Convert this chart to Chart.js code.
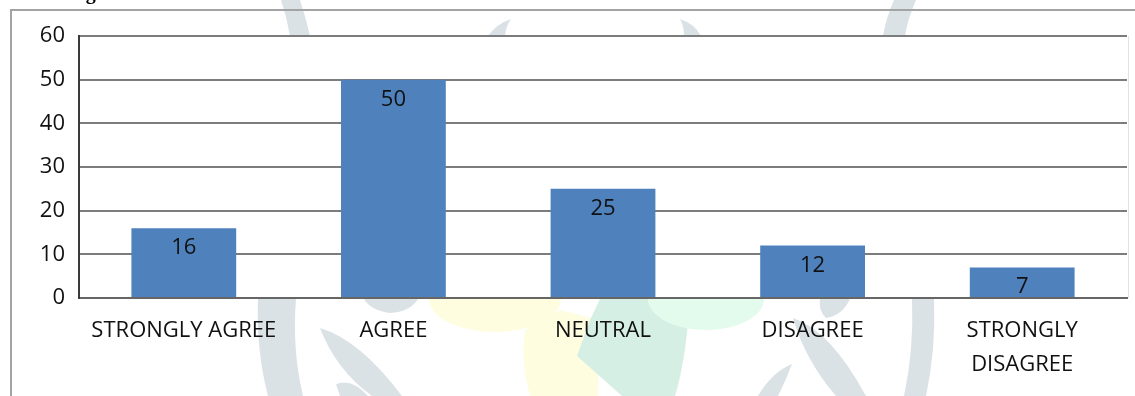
<!DOCTYPE html>
<html>
<head>
<meta charset="utf-8">
<script src="https://cdn.jsdelivr.net/npm/chart.js@4/dist/chart.umd.min.js"></script>
<style>
  html,body{margin:0;padding:0;background:#fff;overflow:hidden}
  #wrap{position:relative;width:1135px;height:396px}
</style>
</head>
<body>
<div id="wrap"><canvas id="ch-likert" width="1135" height="396"></canvas></div>
<script>
/* ---------- Data ---------- */
const categories=['STRONGLY AGREE','AGREE','NEUTRAL','DISAGREE',['STRONGLY','DISAGREE']];
const responses=[16,50,25,12,7];
const yTicks=[0,10,20,30,40,50,60];

const FONT='"Open Sans", "Noto Sans", sans-serif';
const BAR='#4F81BD';
const INK='#111';

/* ---------- Watermark + frame behind the chart ---------- */
function blob(ctx,color,pts){
  ctx.fillStyle=color;ctx.beginPath();
  ctx.moveTo(pts[0][0],pts[0][1]);
  for(let i=1;i<pts.length;i++){
    const p=pts[i];
    if(p.length===4)ctx.quadraticCurveTo(p[0],p[1],p[2],p[3]);else ctx.lineTo(p[0],p[1]);
  }
  ctx.closePath();ctx.fill();
}
function halfEllipse(ctx,color,cx,cy,rx,ry){
  ctx.fillStyle=color;ctx.beginPath();
  ctx.ellipse(cx,cy,rx,ry,0,0,Math.PI);ctx.closePath();ctx.fill();
}
const backdrop={
  id:'backdrop',
  beforeDraw(chart){
    const ctx=chart.ctx,a=chart.chartArea;
    const G='#dbe2e6',Y='#fefde0',Gr='#d6efe4',Lg='#e3fbec';
    ctx.save();
    ctx.fillStyle='#fff';ctx.fillRect(0,0,chart.width,chart.height);
    // emblem fragments above the plot
    blob(ctx,G,[[281,0],[300,0],[306,18,310,36],[290,36],[287,18,281,0]]);
    blob(ctx,G,[[511,19],[506,26,505,36],[488,36],[496,24,511,19]]);
    blob(ctx,G,[[680,19],[695,24,701,36],[684,36],[684,26,680,19]]);
    blob(ctx,G,[[894,0],[916,0],[908,18,905,36],[883,36],[886,18,894,0]]);
    // emblem fragments below the plot
    halfEllipse(ctx,Y,495,299,66,33);
    blob(ctx,Y,[[525,330],[560,310],[600,320],[598,396],[530,396],[520,360,525,330]]);
    blob(ctx,Gr,[[600,299],[690,299],[686,360,675,396],[622,396],[577,356],[590,320]]);
    halfEllipse(ctx,Lg,706,299,58,31);
    blob(ctx,G,[[258,299],[296,299],[292,350,303,396],[268,396],[256,350,258,299]]);
    blob(ctx,G,[[320,328],[360,340,402,396],[372,396],[336,370,320,328]]);
    blob(ctx,G,[[364,299],[418,299],[410,312,390,313],[370,310,364,299]]);
    blob(ctx,G,[[336,384],[352,378,368,396],[340,396]]);
    blob(ctx,G,[[793,318],[830,330,866,396],[836,396],[805,360,793,318]]);
    blob(ctx,G,[[758,396],[772,372,792,364],[786,380,778,396]]);
    blob(ctx,G,[[912,299],[934,299],[936,350,926,396],[904,396],[914,350,912,299]]);
    blob(ctx,G,[[820,299],[850,299],[842,316,826,318],[818,310,820,299]]);
    // white plot area
    ctx.fillStyle='#fff';
    ctx.fillRect(a.left,a.top,a.right-a.left,a.bottom-a.top);
    // clipped heading above the frame
    ctx.fillStyle='#000';ctx.font='bold 20px "Liberation Serif", serif';
    ctx.textBaseline='alphabetic';ctx.textAlign='left';
    ctx.fillText('Fig',68,-1);
    // outer frame
    ctx.strokeStyle='#a3a3a3';ctx.lineWidth=2;
    ctx.beginPath();ctx.moveTo(11,396);ctx.lineTo(11,10);ctx.lineTo(1135,10);ctx.stroke();
    ctx.restore();
  },
  afterDraw(chart){
    const ctx=chart.ctx,a=chart.chartArea;
    ctx.save();
    ctx.strokeStyle='#e2e2e2';ctx.lineWidth=1;
    ctx.beginPath();ctx.moveTo(a.right+1.5,a.top);ctx.lineTo(a.right+1.5,a.bottom);ctx.stroke();
    ctx.restore();
  }
};

/* ---------- Value labels inside the bar tops ---------- */
const barValues={
  id:'barValues',
  afterDatasetsDraw(chart){
    const ctx=chart.ctx;
    ctx.save();
    ctx.font='22px '+FONT;ctx.fillStyle=INK;
    ctx.textAlign='center';ctx.textBaseline='alphabetic';
    chart.getDatasetMeta(0).data.forEach((bar,i)=>{
      ctx.fillText(String(responses[i]),bar.x,bar.y+26);
    });
    ctx.restore();
  }
};

new Chart(document.getElementById('ch-likert'),{
  type:'bar',
  data:{labels:categories,datasets:[{
    data:responses,backgroundColor:BAR,borderWidth:0,
    barPercentage:0.5,categoryPercentage:1.0
  }]},
  options:{
    responsive:false,animation:false,
    layout:{padding:{top:36,right:8,left:0,bottom:0}},
    plugins:{legend:{display:false},tooltip:{enabled:false}},
    scales:{
      x:{
        grid:{display:false,drawTicks:false},
        border:{color:'#666',width:2},
        ticks:{color:INK,padding:16,maxRotation:0,autoSkip:false,font:{family:FONT,size:22,lineHeight:1.55}},
        afterFit(s){s.height=98;}
      },
      y:{
        min:0,max:60,
        afterBuildTicks(s){s.ticks=yTicks.map(v=>({value:v}));},
        grid:{color:'#7c7c7c',lineWidth:2,drawTicks:false},
        border:{color:'#3a3a3a',width:2},
        ticks:{color:INK,padding:14,font:{family:FONT,size:22}},
        afterFit(s){s.width=79;}
      }
    }
  },
  plugins:[backdrop,barValues]
});
</script>
</body>
</html>
